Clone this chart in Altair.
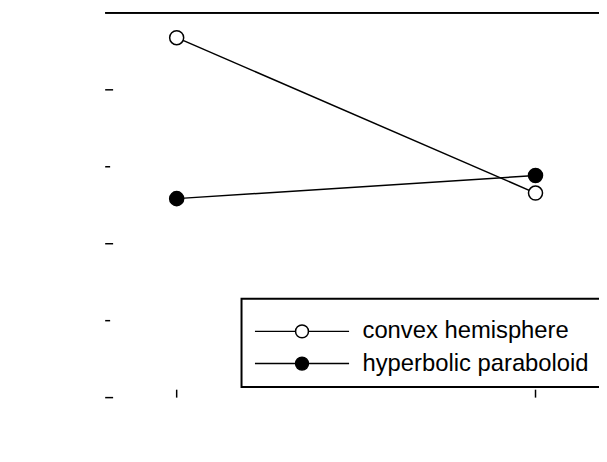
import altair as alt
import pandas as pd

# ---- data ----
distance = [50.0, 180.0]
series_names = ["convex hemisphere", "hyperbolic paraboloid"]
convex = [1.2339, 1.1329]
hyperbolic = [1.1293, 1.1443]

x_ticks = [50.0, 180.0]
y_major = [1.0, 1.1, 1.2]
y_minor = [1.05, 1.15]

x_domain = [24.1, 203.0]
y_domain = [1.0, 1.25]

W, H = 498, 388
FONT = "Liberation Sans"

df = pd.DataFrame({
    "distance": distance * 2,
    "slope": convex + hyperbolic,
    "series": [series_names[0]] * len(distance) + [series_names[1]] * len(distance),
})
xt = pd.DataFrame({"t": x_ticks})
ymaj = pd.DataFrame({"t": y_major})
ymin = pd.DataFrame({"t": y_minor})

xs = alt.Scale(domain=x_domain, nice=False, zero=False)
ys = alt.Scale(domain=y_domain, nice=False, zero=False)

x_axis = alt.Axis(values=x_ticks, format=".1f", ticks=False, labelPadding=8,
                  title="Viewing Distance (cm)", titleBaseline="alphabetic",
                  titleY=55, grid=False, labelFontSize=19.5, titleFontSize=25)
y_axis = alt.Axis(values=y_major, format=".3f", ticks=False, labelPadding=11,
                  title="slope", titleAngle=270, titleBaseline="alphabetic",
                  titleX=-79, titleY=232, grid=False, labelFontSize=19.5,
                  titleFontSize=21.5)

legend_symbol = "M-7.3,0L-1,0M1,0L7.3,0M1,0A1,1,0,1,1,-1,0A1,1,0,1,1,1,0Z"
legend = alt.Legend(
    orient="none", legendX=137.5, legendY=288.2, title=" ", titleFontSize=1,
    titlePadding=9, symbolType=legend_symbol, symbolSize=169, symbolOffset=38,
    labelOffset=49, labelFont=FONT, labelFontSize=24, labelColor="black",
    rowPadding=8.5, padding=11, strokeColor="black", symbolStrokeWidth=1.5,
    labelLimit=400, direction="vertical",
)

color_dom = series_names
fill_scale = alt.Scale(domain=color_dom, range=["white", "black"])
stroke_scale = alt.Scale(domain=color_dom, range=["black", "black"])

lines = alt.Chart(df).mark_line(color="black", strokeWidth=1.5).encode(
    x=alt.X("distance:Q", scale=xs, axis=x_axis),
    y=alt.Y("slope:Q", scale=ys, axis=y_axis),
    detail="series:N",
)

points = alt.Chart(df).mark_point(filled=True, size=200, strokeWidth=1.5, opacity=1).encode(
    x=alt.X("distance:Q", scale=xs, axis=None),
    y=alt.Y("slope:Q", scale=ys, axis=None),
    fill=alt.Fill("series:N", scale=fill_scale, legend=legend),
    stroke=alt.Stroke("series:N", scale=stroke_scale, legend=legend),
)

# top frame line of the plot area
top_frame = alt.Chart(xt).mark_rule(color="black", strokeWidth=2).encode(
    x=alt.value(0), x2=alt.value(W), y=alt.value(0),
)

xticks = alt.Chart(xt).mark_rule(color="black", strokeWidth=1.5).encode(
    x=alt.X("t:Q", scale=xs, axis=None),
    y=alt.value(H),
    y2=alt.value(H - 8),
)
ymajor = alt.Chart(ymaj).mark_rule(color="black", strokeWidth=1.5).encode(
    y=alt.Y("t:Q", scale=ys, axis=None),
    x=alt.value(0),
    x2=alt.value(8),
)
yminor = alt.Chart(ymin).mark_rule(color="black", strokeWidth=1.5).encode(
    y=alt.Y("t:Q", scale=ys, axis=None),
    x=alt.value(0),
    x2=alt.value(5),
)

chart = alt.layer(lines, points, top_frame, xticks, ymajor, yminor).properties(
    width=W, height=H,
    padding={"left": 98, "top": 3, "right": 0, "bottom": 61},
    autosize=alt.AutoSizeParams(type="none"),
).configure_view(stroke=None).configure_axis(
    domainColor="black", domainWidth=2, labelFont=FONT, titleFont=FONT,
    labelColor="black", titleColor="black", titleFontWeight="normal",
).configure_legend(strokeWidth=2)

chart.save("out.html", embed_options={"renderer": "svg", "actions": False})
